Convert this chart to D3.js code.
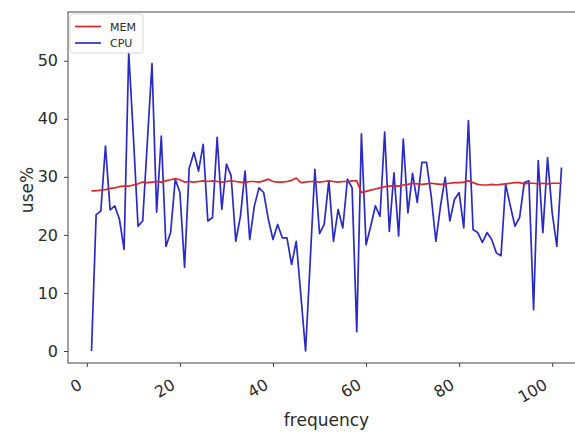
<!DOCTYPE html>
<html>
<head>
<meta charset="utf-8">
<script src="https://cdn.jsdelivr.net/npm/d3@7"></script>
<style>
  body { margin: 0; background: #fff; }
  svg { display: block; font-family: "DejaVu Sans", sans-serif; }
</style>
</head>
<body>
<svg width="575" height="436"></svg>
<script>
// cpu / mem samples, x = 1..102
var cpuUse = [
  0, 23.5, 24.1, 35.3, 24.3, 25, 22.7, 17.5, 51.5, 37,
  21.5, 22.4, 36, 49.5, 23.9, 37, 18, 20.4, 29.6, 27.3,
  14.4, 31.5, 34.2, 31, 35.6, 22.4, 23, 36.8, 24.4, 32.2,
  30.2, 18.9, 23.2, 31, 19.2, 25, 28.1, 27.3, 22.7, 19.2,
  21.8, 19.5, 19.5, 14.9, 18.9, 9.5, 0, 15.5, 31.3, 20.2,
  21.8, 29.3, 18.9, 24.4, 21.2, 29.6, 28.1, 3.3, 37.4, 18.3,
  21.5, 25, 23.2, 37.7, 20.6, 30.7, 19.8, 36.5, 23.8, 30.6,
  25.6, 32.5, 32.5, 26.7, 18.9, 25, 29.9, 22.4, 26.1, 27.3,
  21.2, 39.7, 20.9, 20.4, 18.7, 20.4, 19.2, 16.9, 16.4, 28.7,
  25, 21.5, 23, 29, 29.3, 7.1, 32.8, 20.4, 33.3, 23.8,
  18, 31.6
];
var memUse = [
  27.6, 27.6, 27.7, 27.8, 28.0, 28.1, 28.3, 28.4, 28.4, 28.6,
  28.8, 29.1, 29.0, 29.1, 29.2, 29.1, 29.3, 29.5, 29.7, 29.5,
  29.1, 29.2, 29.1, 29.2, 29.3, 29.2, 29.3, 29.2, 29.1, 29.2,
  29.3, 29.2, 29.1, 29.0, 29.2, 29.2, 29.1, 29.3, 29.6, 29.2,
  29.1, 29.1, 29.2, 29.4, 29.8, 29.0, 29.1, 29.2, 29.2, 29.1,
  29.2, 29.3, 29.2, 29.1, 29.2, 29.2, 29.3, 29.3, 27.3, 27.5,
  27.7, 27.9, 28.1, 28.3, 28.4, 28.5, 28.4, 28.6, 28.7, 28.9,
  28.8, 28.7, 28.8, 28.9, 28.8, 28.7, 28.8, 28.9, 29.0, 29.0,
  29.1, 29.3, 29.0, 28.7, 28.6, 28.6, 28.7, 28.6, 28.7, 28.8,
  28.9, 29.0, 29.0, 28.8, 28.9, 28.9, 28.8, 28.9, 28.8, 28.9,
  28.9, 28.9
];
var xTicks = [0, 20, 40, 60, 80, 100];
var yTicks = [0, 10, 20, 30, 40, 50];
var seriesNames = ["MEM", "CPU"];
var seriesColors = ["#dd2626", "#2a2ac8"];

var svg = d3.select("svg");

var x = d3.scaleLinear().domain([-4.05, 107.05]).range([68, 585]);
var y = d3.scaleLinear().domain([-2.07, 58.4]).range([363, 12]);

var line = d3.line()
  .x(function (d, i) { return x(i + 1); })
  .y(function (d) { return y(d); });

// y axis
var gy = svg.append("g")
  .attr("transform", "translate(" + x.range()[0] + ",0)")
  .call(d3.axisLeft(y).tickValues(yTicks).tickSize(4).tickPadding(6));
gy.select(".domain").remove();
gy.selectAll(".tick line").attr("stroke", "#444");
gy.selectAll(".tick text")
  .attr("font-size", 16)
  .attr("font-family", "DejaVu Sans")
  .attr("fill", "#2a2a2a");

// x axis
var gx = svg.append("g")
  .attr("transform", "translate(0," + y.range()[0] + ")")
  .call(d3.axisBottom(x).tickValues(xTicks).tickSize(4));
gx.select(".domain").remove();
gx.selectAll(".tick line").attr("stroke", "#444");
gx.selectAll(".tick text")
  .attr("font-size", 16)
  .attr("font-family", "DejaVu Sans")
  .attr("fill", "#2a2a2a")
  .attr("text-anchor", "end")
  .attr("y", 0)
  .attr("dy", 0)
  .attr("transform", "translate(-4,25) rotate(-30)");

// lines
svg.append("path")
  .datum(cpuUse)
  .attr("fill", "none")
  .attr("stroke", seriesColors[1])
  .attr("stroke-width", 1.7)
  .attr("stroke-linejoin", "round")
  .attr("d", line);

svg.append("path")
  .datum(memUse)
  .attr("fill", "none")
  .attr("stroke", seriesColors[0])
  .attr("stroke-width", 1.7)
  .attr("stroke-linejoin", "round")
  .attr("d", line);

// frame
svg.append("rect")
  .attr("x", x.range()[0])
  .attr("y", y.range()[1])
  .attr("width", x.range()[1] - x.range()[0])
  .attr("height", y.range()[0] - y.range()[1])
  .attr("fill", "none")
  .attr("stroke", "#444")
  .attr("stroke-width", 1);

// labels
svg.append("text")
  .attr("x", (x.range()[0] + x.range()[1]) / 2)
  .attr("y", 426)
  .attr("text-anchor", "middle")
  .attr("font-size", 17)
  .attr("fill", "#2a2a2a")
  .text("frequency");

svg.append("text")
  .attr("transform", "translate(33,190) rotate(-90)")
  .attr("text-anchor", "middle")
  .attr("font-size", 17)
  .attr("fill", "#2a2a2a")
  .text("use%");

// legend
var lg = svg.append("g").attr("transform", "translate(70,14)");
lg.append("rect")
  .attr("width", 73)
  .attr("height", 39)
  .attr("rx", 3)
  .attr("fill", "#fff")
  .attr("fill-opacity", 0.8)
  .attr("stroke", "#d8d8d8");
seriesNames.forEach(function (name, i) {
  var ly = 12.5 + i * 16.5;
  lg.append("line")
    .attr("x1", 5).attr("x2", 31)
    .attr("y1", ly).attr("y2", ly)
    .attr("stroke", seriesColors[i])
    .attr("stroke-width", 1.7);
  lg.append("text")
    .attr("x", 40)
    .attr("y", ly + 4)
    .attr("font-size", 11)
    .attr("fill", "#2a2a2a")
    .text(name);
});
</script>
</body>
</html>
